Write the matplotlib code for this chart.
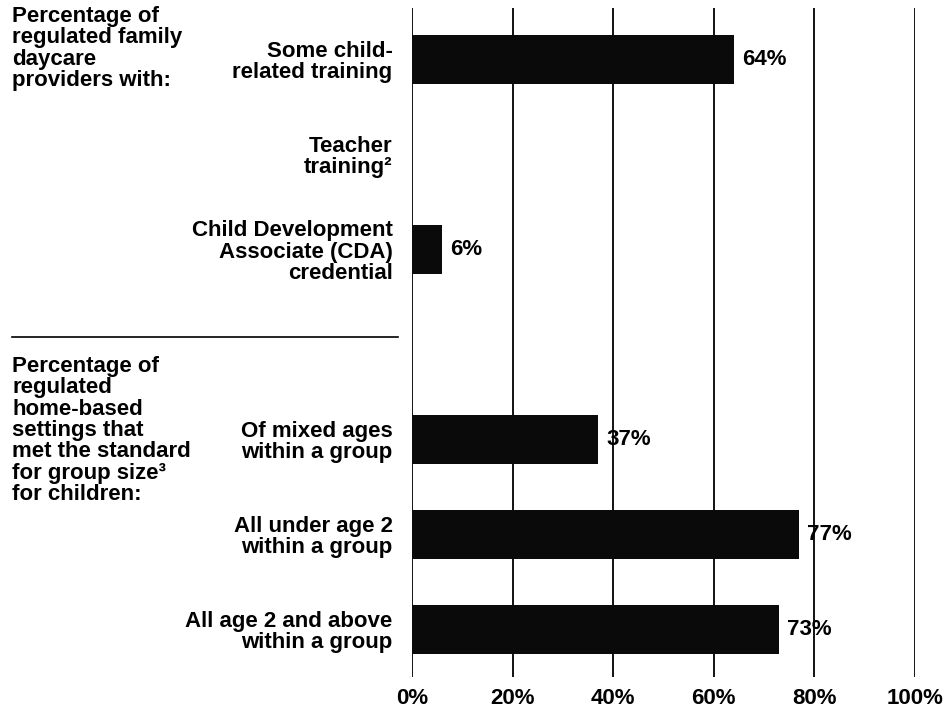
import matplotlib.pyplot as plt
from matplotlib.lines import Line2D

# data
labels = ['Some child-\nrelated training',
          'Teacher\ntraining\u00b2',
          'Child Development\nAssociate (CDA)\ncredential',
          '',
          'Of mixed ages\nwithin a group',
          'All under age 2\nwithin a group',
          'All age 2 and above\nwithin a group']
values = [64, None, 6, None, 37, 77, 73]
xticks = [0, 20, 40, 60, 80, 100]
xtick_labels = ['0%', '20%', '40%', '60%', '80%', '100%']

group1 = 'Percentage of\nregulated family\ndaycare\nproviders with:'
group2 = ('Percentage of\nregulated\nhome-based\nsettings that\n'
          'met the standard\nfor group size\u00b3\nfor children:')

plt.rcParams['font.family'] = ['Liberation Sans', 'DejaVu Sans']
plt.rcParams['font.weight'] = 'bold'
fs = 16
ls = 1.02

W, H = 950, 713
fig = plt.figure(figsize=(9.5, 7.13), dpi=100)
ax = fig.add_axes([412 / W, 1 - 677 / H, (915 - 412) / W, (677 - 8) / H])

pos = list(range(len(labels)))
for p, v in zip(pos, values):
    if v is None:
        continue
    ax.barh(p, v, height=0.51, color='#0a0a0a', zorder=2)
    ax.text(v + 1.6, p, '%d%%' % v, va='center', ha='left',
            fontsize=fs, fontweight='bold', zorder=3)

for x in xticks:
    ax.axvline(x, color='black', lw=1.3, zorder=1)

ax.set_xlim(0, 100)
ax.set_ylim(6.5, -0.54)
ax.set_xticks(xticks)
ax.set_xticklabels(xtick_labels, fontsize=fs, fontweight='bold')
ax.set_yticks(pos)
ax.set_yticklabels(labels, fontsize=fs, fontweight='bold', linespacing=ls)
ax.tick_params(axis='both', length=0)
ax.tick_params(axis='y', pad=14)
ax.tick_params(axis='x', pad=8)
for s in ax.spines.values():
    s.set_visible(False)

fig.text(12 / W, 1 - 6 / H, group1, ha='left', va='top',
         fontsize=fs, fontweight='bold', linespacing=ls)
fig.text(12 / W, 1 - 356 / H, group2, ha='left', va='top',
         fontsize=fs, fontweight='bold', linespacing=ls)
fig.add_artist(Line2D([12 / W, 398 / W], [1 - 337 / H, 1 - 337 / H],
                      color='black', lw=1.2))

fig.savefig('out.png', dpi=100)
